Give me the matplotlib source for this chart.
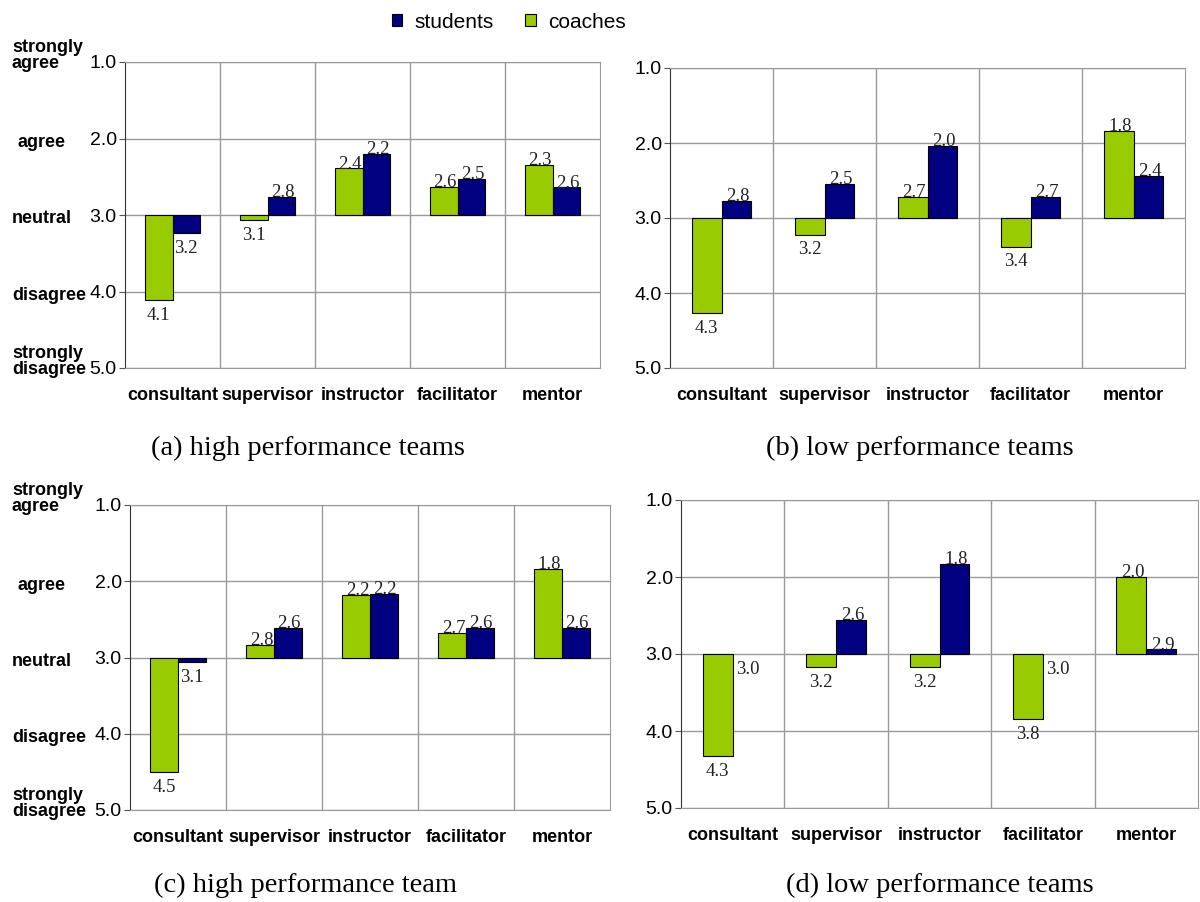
import numpy as np
import matplotlib.pyplot as plt
from matplotlib.patches import Patch
from matplotlib import transforms

plt.rcParams['font.family'] = ['Liberation Sans', 'DejaVu Sans']

roles = ['consultant', 'supervisor', 'instructor', 'facilitator', 'mentor']

# values (1 = strongly agree, 5 = strongly disagree)
coaches_a = [4.11, 3.06, 2.39, 2.63, 2.34]
students_a = [3.23, 2.76, 2.20, 2.53, 2.64]
coaches_b = [4.27, 3.22, 2.72, 3.38, 1.84]
students_b = [2.77, 2.54, 2.04, 2.72, 2.44]
coaches_c = [4.50, 2.83, 2.18, 2.68, 1.84]
students_c = [3.06, 2.61, 2.17, 2.61, 2.61]
coaches_d = [4.33, 3.17, 3.17, 3.84, 2.00]
students_d = [3.00, 2.56, 1.83, 3.00, 2.94]

captions = ['(a) high performance teams', '(b) low performance teams',
            '(c) high performance team', '(d) low performance teams']
scale_words = ['strongly\nagree', 'agree', 'neutral', 'disagree', 'strongly\ndisagree']
ticks = [1.0, 2.0, 3.0, 4.0, 5.0]

green = '#99CC00'
navy = '#000080'
grid = '#999999'

fig = plt.figure(figsize=(12, 9.02), dpi=100)

W, H = 1200, 902
# left, right, top, bottom in pixels
boxes = [(125, 600, 62, 368), (670, 1185, 68, 368),
         (130, 610, 505, 810), (681, 1198, 500, 808)]
data = [(coaches_a, students_a), (coaches_b, students_b),
        (coaches_c, students_c), (coaches_d, students_d)]
cap_pos = [(308, 448), (920, 448), (305, 885), (940, 885)]

w = 0.29
x = np.arange(len(roles))

for i in range(4):
    l, r, t, b = boxes[i]
    ax = fig.add_axes([l / W, 1 - b / H, (r - l) / W, (b - t) / H])
    co, st = data[i]
    co = np.array(co)
    st = np.array(st)
    lw_c = [0.8 if v != 3 else 0 for v in co]
    lw_s = [0.8 if v != 3 else 0 for v in st]
    ax.bar(x - w / 2, co - 3, bottom=3, width=w, color=green,
           edgecolor='black', linewidth=lw_c, zorder=3)
    ax.bar(x + w / 2, st - 3, bottom=3, width=w, color=navy,
           edgecolor='black', linewidth=lw_s, zorder=3)
    for xs, vals in [(x - w / 2, co), (x + w / 2, st)]:
        for xx, v in zip(xs, vals):
            if v < 3:
                ax.annotate('%.1f' % v, (xx, v), xytext=(1, -3),
                            textcoords='offset points', ha='center', va='bottom',
                            fontsize=13.5, family='Liberation Serif', color='#222222',
                            zorder=4)
            else:
                ax.annotate('%.1f' % v, (xx, v), xytext=(0, -5),
                            textcoords='offset points', ha='center', va='top',
                            fontsize=13.5, family='Liberation Serif', color='#222222',
                            zorder=4)

    ax.set_xlim(-0.5, 4.5)
    ax.set_ylim(5, 1)
    ax.set_yticks(ticks)
    ax.set_yticklabels(['%.1f' % t_ for t_ in ticks], fontsize=14)
    ax.set_xticks(x)
    ax.set_xticklabels(roles, fontsize=13, fontweight='bold')
    ax.tick_params(axis='x', length=0, pad=14)
    ax.tick_params(axis='y', length=4, pad=2, color='#555555')
    for yy in ticks:
        ax.axhline(yy, color=grid, lw=1, zorder=1)
    for xx in np.arange(0.5, 4.5, 1):
        ax.axvline(xx, color=grid, lw=1, zorder=1)
    for s in ['top', 'right', 'bottom']:
        ax.spines[s].set_color(grid)
    ax.spines['left'].set_color('#333333')

    if i in (0, 2):
        tr = transforms.blended_transform_factory(fig.transFigure, ax.transData)
        for yy, word in zip(ticks, scale_words):
            xo = 12 / W
            if word == 'agree':
                xo = 18 / W
            if '\n' in word:
                ax.text(xo, yy + 0.13, word, transform=tr, ha='left', va='bottom',
                        fontsize=13, fontweight='bold', linespacing=0.95)
            else:
                ax.text(xo, yy + 0.05, word, transform=tr, ha='left', va='center',
                        fontsize=13, fontweight='bold')

    cx, cy = cap_pos[i]
    fig.text(cx / W, 1 - cy / H, captions[i], ha='center', va='center',
             fontsize=20.5, family='Liberation Serif')

handles = [Patch(facecolor=navy, edgecolor='black', linewidth=0.8, label='students'),
           Patch(facecolor=green, edgecolor='black', linewidth=0.8, label='coaches')]
fig.legend(handles=handles, loc='center', bbox_to_anchor=(509 / W, 1 - 22 / H), ncol=2,
           frameon=False, fontsize=15, handlelength=0.5, handleheight=0.5,
           handletextpad=0.6, columnspacing=1.5)

plt.savefig('out.png', dpi=100)
